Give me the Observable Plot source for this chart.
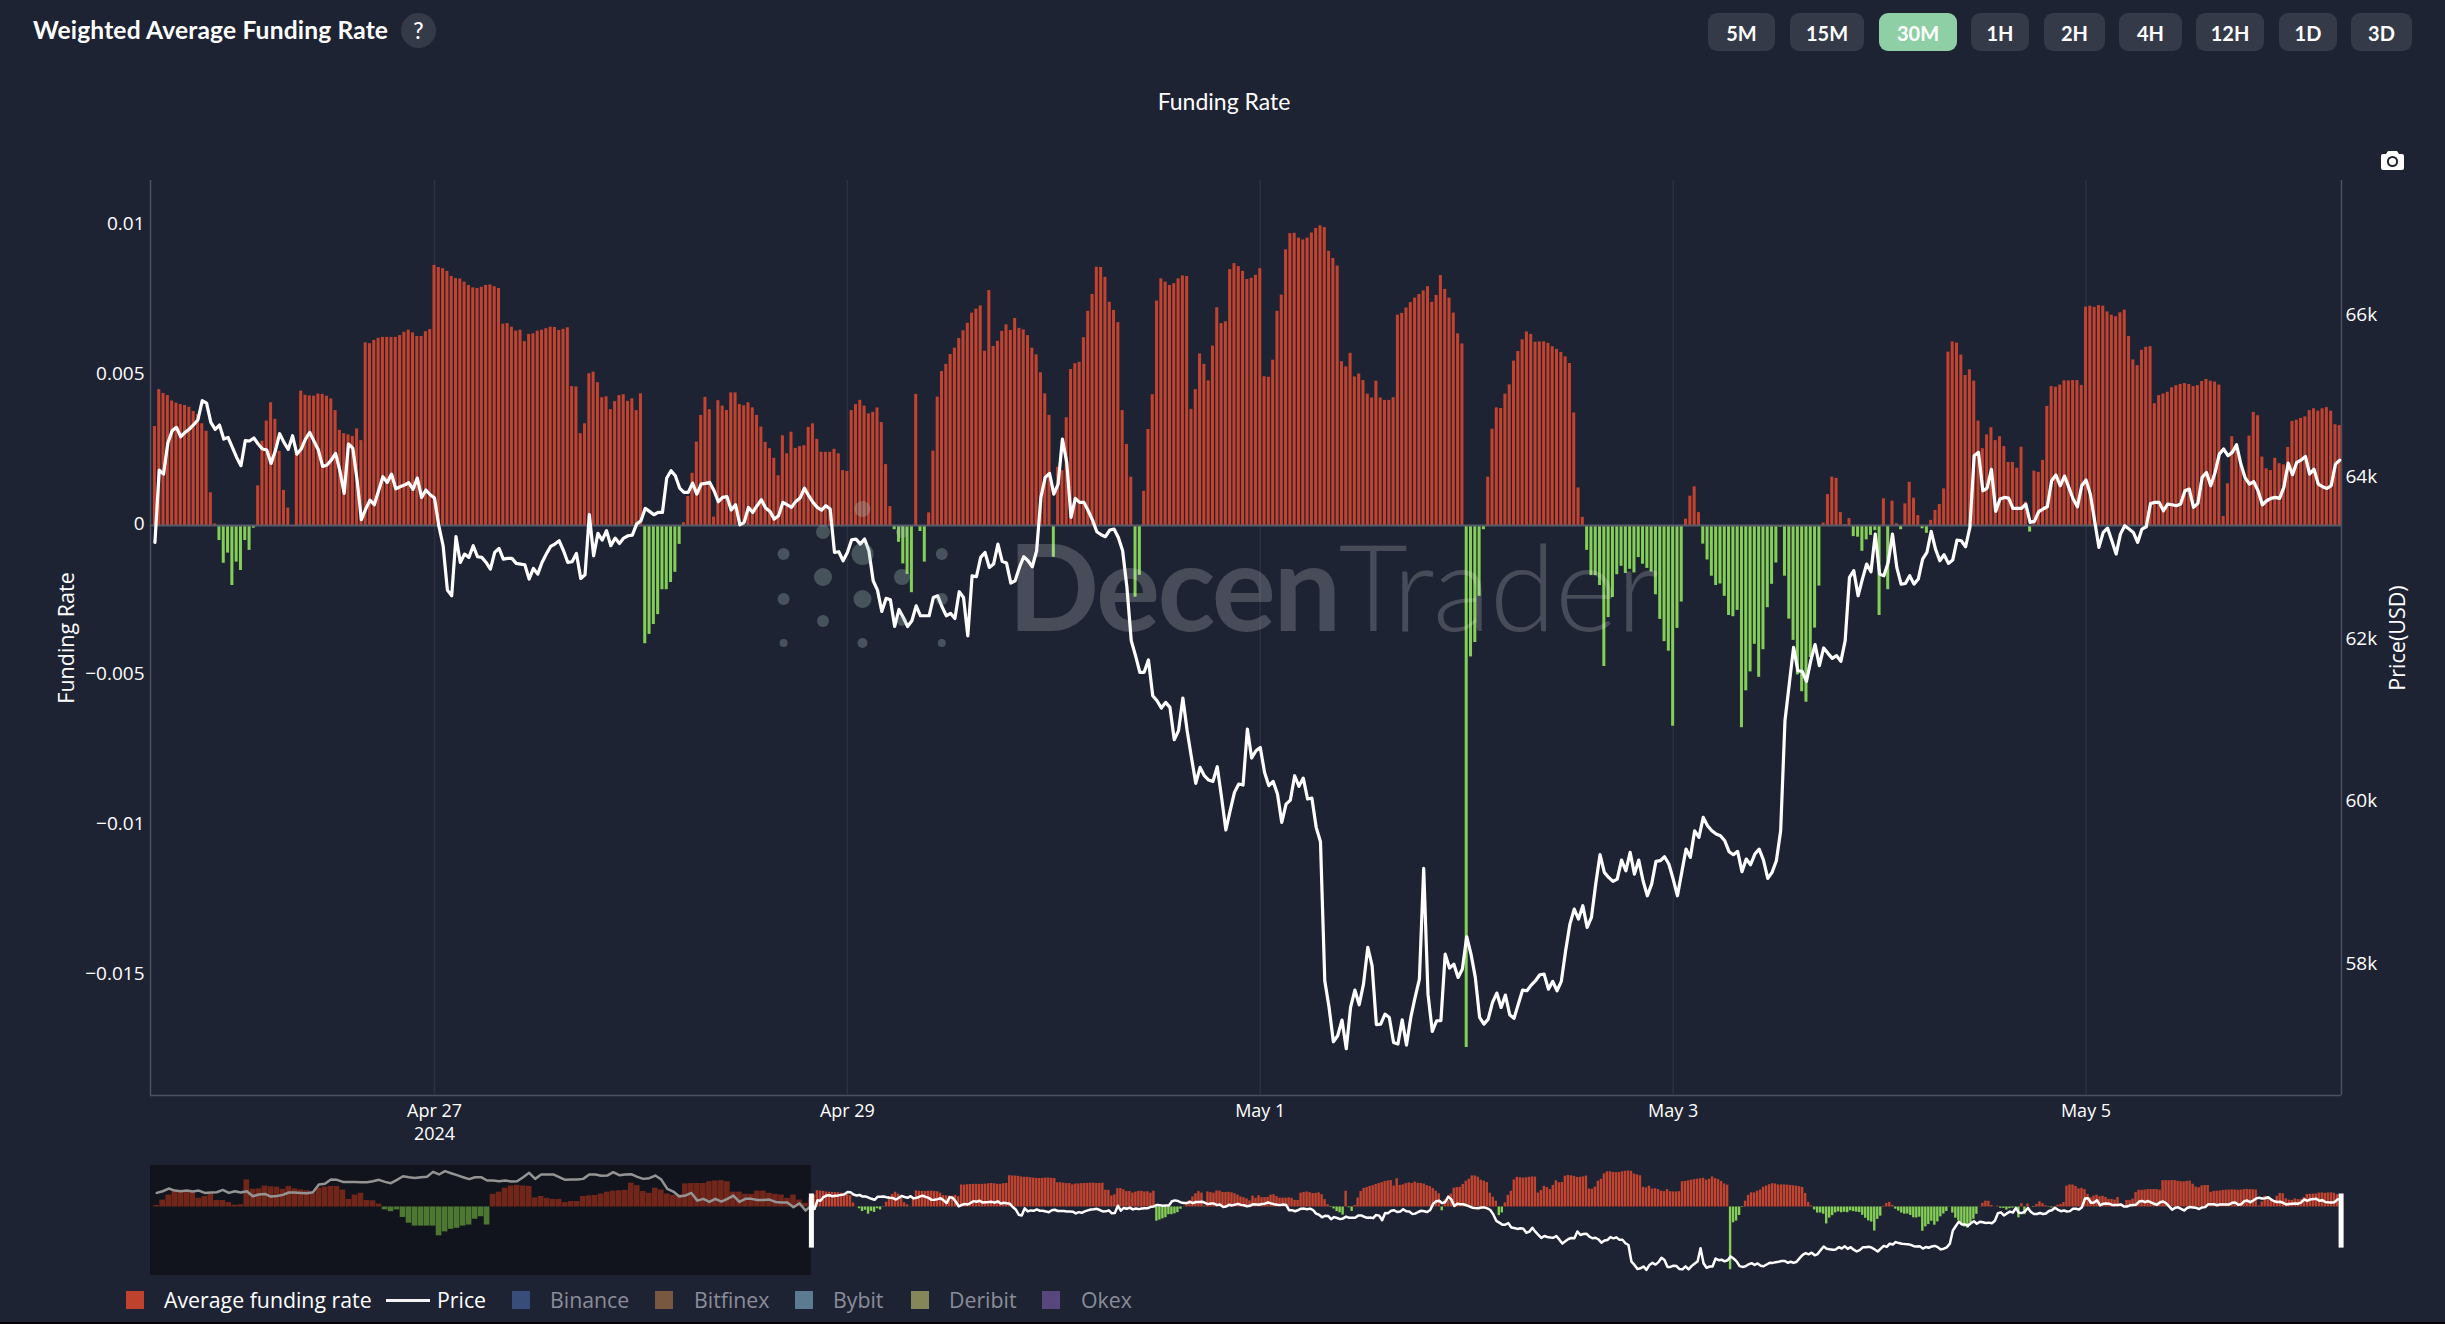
<!DOCTYPE html>
<html><head><meta charset="utf-8">
<script src="https://cdn.jsdelivr.net/npm/d3@7"></script>
<script src="https://cdn.jsdelivr.net/npm/@observablehq/plot@0.6"></script>
<style>
html{background:#000;margin:0}
body{margin:0;width:2445px;height:1322px;background:#1e2333;position:relative;overflow:hidden;font-family:"Open Sans",sans-serif;color:#fff}
#header{position:relative;height:130px}
#title{position:absolute;left:33px;top:15px;font:700 24.6px Lato,sans-serif;letter-spacing:.15px}
#help{position:absolute;left:401px;top:13px;width:35px;height:35px;border-radius:50%;background:#353a49;text-align:center;font:500 23px/35px Lato,sans-serif}
.btn{position:absolute;top:13px;height:38px;border-radius:9px;background:#353a49;text-align:center;font:700 20px/40px Lato,sans-serif}
.btn.on{background:#8fcfa6}
#sub{position:absolute;left:0;width:2448px;top:87px;text-align:center;font:400 23px Lato,sans-serif}
#cam{position:absolute;left:2381px;top:150px;z-index:3}
svg{display:block}
#wm{position:absolute;left:1008px;top:510px;font:700 120px/150px Lato,sans-serif;color:rgba(255,255,255,.19);letter-spacing:-2.5px;white-space:pre;z-index:2;pointer-events:none}
#wm span{font-weight:300;letter-spacing:-1px}
#logo{position:absolute;left:0;top:0;z-index:2;pointer-events:none}
#legend{position:absolute;left:0;top:1285px;height:37px;width:2445px}
.sw{position:absolute;top:6px;width:18px;height:18px;opacity:.95}
.lt{position:absolute;top:0;font:400 21.3px/30px "Open Sans",sans-serif}
</style></head><body>
<div id="header"></div>
<div id="main"></div>
<div id="nav"></div>
<div id="legend"></div>
<script>
// ---------- funding rate per 30-minute bar, in units of 0.0001 ----------
const fundingA = [33,45.3,44,43.3,41.5,40.8,40.3,40,39.4,38,37,33.9,31.4,10.9,0.5,-5,-12.6,-9.2,-20,-12.2,-15,-5,-8.3,-0.9,13.2,28.1,34.8,40.9,35.4,24.7,11.7,5.8,-0.3,24.4,44.8,43.4,43.2,43.1,43.8,43.7,43.1,42.2,38.3,31.7,30.6,30.2,29.7,32.2,28.3,60.9,60.6,61.7,62.4,62.7,62.7,62.7,62.7,63.3,64.4,65.1,64.2,63,63,64.6,65.3,86.7,86,85.6,84.7,83,82.3,82.2,81.1,80,79.2,79,79.4,80,80.2,79.6,79,67.1,67.3,66.1,64.8,65.1,61.3,63.7,63.9,64.8,65.1,65.6,66.1,66,65,65.4,65.9,46.3,46.2,30.6,33.9,50.6,51.1,47.6,42.6,42.9,38.6,41.3,43.3,43.6,41.4,42.2,38.3,43.9,-39.4,-36.3,-33,-29.7,-21.4,-21.4,-19,-15.6,-6.3,0.9,9.7,17.4,27.8];
const fundingB = [36.7,42.7,38.6,2.8,41.6,39.8,38.3,44.2,44.2,40.3,39.9,40.9,39.2,36.7,32.8,27.7,25.6,22.4,16.6,29.9,23.9,31.1,25.7,26.3,26.6,32.7,33.9,28.7,24.4,24.4,24.4,25.4,23.9,18.3,18,38.3,40.3,41.7,39.8,37.2,37.7,39.2,34.3,20.3,6.3,-1.4,-5.6,-12.8,-16.3,-22.4,43.7,-2,-12.2,4.2,24.8,42.8,51.3,53.7,57,59.1,62.3,64.9,67.4,70.8,72.1,73.2,58.1,78.3,59.7,61.4,64.7,66.9,65,69,65.7,65.2,63.3,59.1,56.9,50.9,43.9,36.7,-10.6,19.4,18.3,35.9,52,53.9,54.4,62.6,71.4,77,86.1,86,82.7,74.4,71.7,67.6,38.3,27,16.1,-23.9,-16.6,11.4,32,43.6,74.8,82.2,81.1,80,80.6,82.2,83.2,83,38.7,45.3,57.2,53.7,48.2,59.8,72.6,67.3,67.9,85.3,87.3,86.3,84.7,82,82.4,83.4,85.6];
const fundingC = [49.6,49.4,55.1,71.4,76.8,91.9,97.3,97.4,95.8,95.2,95.8,97.5,99,99.9,99.3,91.4,89,86.5,54.6,52.9,57.4,49.5,50.5,48.3,43.8,42.5,48.1,42.5,41.7,41.7,42.6,70.1,70.7,72.5,74.3,75.8,77,78.2,79.6,74.4,76.7,83.3,78.7,75.8,70.8,63.9,60.5,-174,-43.8,-39,-23.6,-1.4,16.1,32.1,39.2,39,43.8,46.9,54.8,58,61.9,64.5,63.7,61.1,61.2,61.2,60.7,59.6,58.7,57.7,56.2,54,37.5,12.5,2.7,-8.3,-16.7,-16.7,-20,-47,-30.7,-24,-16.4,-13.6,-16,-14.6,-15.8,-10.7,-12.9,-14.3,-15.5,-23.1,-31.3,-38.7,-41.9,-66.9,-34.3,-25.5,2.1,9.8,12.9,4.3,-6.2,-11.5,-16.9,-20,-19.5,-23.6,-30,-30.4,-28.3,-67.4,-55.1,-48.8,-39.6,-50.6,-41.4,-27.4,-19.6,-12.5,-0.6,-16.9,-31.2,-38.3,-49.8,-55.4,-58.9,-44,-34.2,-20.2];
const fundingD = [0.8,10.3,16.1,15.7,4.3,0.3,2.3,-3.7,-3.9,-8.6,-4.8,-3.3,-1.7,-30,8.9,-21.4,8.1,0.6,-1.4,7.2,14.4,9.1,3.3,-1.1,-2.6,1.7,5,7,12.2,57.8,61.2,60.8,56.8,50,51.9,48.1,34.8,25.6,30.2,32.6,28.3,29.6,26.3,21,21,19.1,26.1,7.8,-2.2,18.1,17.7,21.7,39.7,46.3,46.1,46.8,48.2,48.2,48.3,48.3,46.7,72.8,73.1,72.7,73.3,73.1,71.2,70.1,69.6,70.9,71.8,63,55.2,53.3,58.4,59.4,59.6,40.6,43.3,43.8,44.4,45.9,46.6,47,47.3,47,46.3,46.6,48,48.7,48.1,47.8,46.8,3,13.9,29.6,26.1,20,15,29.8,37.7,36.6,22.8,18.9,18.3,22.4,20.6,20.2,26,34.7,35.1,35.7,36.2,38.3,38.9,38.1,38.9,39.3,38.1,33.6,33.3];
// ---------- BTC price per bar (USD) ----------
const priceA = [63191,64082,64033,64415,64567,64608,64493,64546,64587,64641,64702,64937,64908,64670,64583,64637,64464,64485,64361,64238,64136,64444,64440,64477,64403,64341,64329,64164,64320,64530,64423,64337,64505,64279,64341,64464,64546,64435,64329,64127,64144,64205,64288,64074,63795,64403,64353,63959,63470,63602,63712,63655,63827,64000,63930,64033,63852,63877,63897,63926,63844,63984,63745,63836,63778,63737,63396,63150,62603,62533,63261,62944,63047,63006,63150,63014,63006,62944,62862,63067,63117,62985,62994,62994,62932,62924,62915,62739,62870,62800,62944,63047,63141,63170,63211,63088,62944,62952,63055,62747,62792,63532,63026,63302,63219,63335,63150,63244,63178,63244,63273,63281,63417,63458,63610,63573,63532,63560,63560,63984,64074,64012,63860,63807,63807,63922,63786];
const priceB = [63910,63918,63930,63827,63692,63745,63754,63589,63655,63408,63437,63622,63560,63643,63717,63614,63573,63478,63519,63684,63655,63622,63696,63737,63860,63766,63684,63622,63589,63643,63602,63067,63076,62965,63067,63224,63232,63170,63232,63088,62718,62603,62340,62501,62484,62155,62365,62266,62155,62225,62410,62287,62287,62287,62513,62533,62398,62287,62316,62254,62583,62513,62040,62780,62768,63006,63067,62883,62924,63170,62957,62936,62690,62718,62883,63014,62965,62891,63088,63745,63992,64041,63786,63910,64464,64177,63499,63733,63684,63684,63581,63466,63322,63285,63261,63343,63355,63252,63088,62636];
const priceC = [61980,61795,61590,61590,61742,61302,61240,61150,61220,61158,60760,60871,61273,60871,60542,60222,60419,60316,60263,60246,60427,60049,59647,59885,60111,60214,60201,60891,60534,60624,60665,60357,60193,60246,60090,59741,59967,60016,60316,60185,60287,60029,60041,59680,59503,57790,57461,57038,57112,57305,56952,57461,57675,57494,57749,58201,57975,57248,57256,57379,57338,57030,57009,57309,56997,57338,57584,57810,59174,57625,57165,57297,57297,58118,57946,57995,57831,57934,58332,58118,57831,57338,57256,57317,57523,57638,57461,57613,57371,57326];
const priceD = [57502,57675,57667,57736,57790,57864,57872,57687,57782,57667,57782,58160,58488,58673,58550,58714,58447,58570,58981,59343,59125,59063,59014,59043,59277,59145,59371,59104,59277,59022,58837,58981,59261,59269,59318,59228,59043,58837,59125,59412,59310,59638,59556,59803,59700,59638,59597,59577,59515,59380,59343,59384,59133,59289,59219,59351,59412,59277,59051,59125,59269,59638,60994,61446,61898,61610,61602,61479,61734,61931,61672,61890,61824,61762,61795,61725,61980];
const priceE = [62759,62842,62533,62739,62924,62829,63293,62800,62780,62944,63293,62883,62677,62685,62780,62677,62739,62985,63067,63326,63109,62965,63039,62932,62973,63219,63211,63137,63376,64259,64300,63827,63860,64090,63573,63725,63745,63737,63610,63610,63610,63663,63437,63450,63569,63602,63630,63951,64021,63889,64008,63869,63725,63630,63889,63959,63786,63458,63129,63314,63367,63211,63047,63293,63396,63355,63314,63191,63355,63384,63671,63684,63684,63581,63663,63655,63643,63663,63827,63848,63622,63671,63992,64053,63889,64053,64279,64341,64259,64300,64394,64156,63984,63910,63938,63827,63655,63704,63733,63745,63733,63869,64168,64025,64177,64205,64251,64033,64094,63910,63877,63856,63889,64156,64205];
// ---------- hourly readings for the part of the range slider left of the window ----------
const preFunding = [4,19,33,43,43,43,41,24,29,36,18,18,12,5,6,75,49,50,58,56,55,49,57,50,47,45,38,52,55,57,57,47,21,33,38,18,17,8,-8,-13,-8,-29,-45,-53,-53,-53,-53,-80,-69,-62,-59,-53,-50,-34,-27,-50,35,41,52,58,60,58,57,25,29,24,21,21,12,15,15,29,31,32,36,41,44,45,46,66,59,43,38,52,47,36,32,34,64,65,65,65,70,72,73,70,41,41,35,35,44,44,38,35,33,24,33,19,10,24];
const prePrice = [64840,65010,65290,65080,65010,65080,64980,65080,64840,64880,64910,65150,64840,65010,64880,65010,64500,64670,64740,64470,64530,64640,64880,64880,64840,64810,64910,65700,65770,66210,66180,65970,65970,65970,65940,65940,66040,66180,65970,65840,66180,66550,66450,66380,66450,66490,67000,66730,67070,66860,66660,66450,66250,66450,66450,66110,66110,66040,66110,66010,66040,66450,66900,66280,66730,66730,66730,66450,66180,66210,66210,66280,66730,66730,66590,66620,66970,66660,66730,66760,66490,66280,66350,66620,66210,65250,64980,64470,64570,64840,64050,64230,63920,64230,63950,64230,64570,63920,64230,64230,64120,64120,64160,63920,63850,63850,63370,63780,63030,63540];
// ---------- axes, labels, palette ----------
const fundingTicks = [0.01,0.005,0,-0.005,-0.01,-0.015];
const priceTicks = [58000,60000,62000,64000,66000];
const dateTicks = ["2024-04-27","2024-04-29","2024-05-01","2024-05-03","2024-05-05"];
const dateLabels = ["Apr 27\n2024","Apr 29","May 1","May 3","May 5"];
const buttons = ["5M","15M","30M","1H","2H","4H","12H","1D","3D"];
const buttonLeft = [1708,1790,1879,1971,2044,2119,2196,2279,2351];
const buttonWidth = [67,74,78,58,61,63,68,58,61];
const legendNames = ["Average funding rate","Price","Binance","Bitfinex","Bybit","Deribit","Okex"];
const legendColors = ["#c8442f",null,"#3b5080","#7d5c42","#5f8296","#8b8d5e","#5b4a82"];
const legendSwatchLeft = [126,386,512,655,795,911,1042];
const legendTextLeft = [164,437,550,694,833,949,1081];
const RED="#c4432e", GREEN="#84cf55", MUTED="#8a8d99";

const HALF=60e3, HOUR=3600e3;
const t0=+new Date("2024-04-25T15:30:00Z");
const funding=[...fundingA,...fundingB,...fundingC,...fundingD];
const price=[...priceA,...priceB,...priceC,...priceD,...priceE];
const rows=funding.map((f,i)=>({t:t0+i*30*HALF,f:f/1e4}));
const line=price.map((p,i)=>({t:t0+i*30*HALF,p}));
const preRows=preFunding.map((f,i)=>({t:t0+(i-preFunding.length)*HOUR+HOUR/2,f:f/1e4}));
const preLine=prePrice.map((p,i)=>({t:t0+(i-prePrice.length)*HOUR+HOUR/2,p}));

const xDomain=[new Date("2024-04-25T14:59:00Z"),new Date("2024-05-06T05:42:00Z")];
const navDomain=[new Date("2024-04-21T00:58:00Z"),xDomain[1]];
const yDomain=[-0.019,0.0115];
const toY=d3.scaleLinear([56376,67650],yDomain);
const tickDates=dateTicks.map(d=>new Date(d+"T00:00:00Z"));
const fmtF=v=>v===0?"0":(v<0?"\u2212":"")+Math.abs(v);
const barW=10.5*HALF;

const margins={marginLeft:150,marginRight:104};
const bars=(data,w)=>[
  Plot.rect(data.filter(d=>d.f>=0),{x1:d=>d.t-w,x2:d=>d.t+w,y1:0,y2:"f",fill:RED}),
  Plot.rect(data.filter(d=>d.f<0),{x1:d=>d.t-w,x2:d=>d.t+w,y1:0,y2:"f",fill:GREEN})];

const main=Plot.plot({width:2445,height:1020,marginTop:50,marginBottom:55,...margins,
  style:{background:"transparent",color:"#fff",fontFamily:"'Open Sans',sans-serif",fontSize:"18px",overflow:"visible"},
  x:{type:"utc",domain:xDomain},y:{domain:yDomain},
  marks:[
    Plot.ruleX(tickDates,{stroke:"#2c3142",strokeWidth:1.5}),
    ...bars(rows,barW),
    Plot.ruleY([0],{stroke:"#565b6a",strokeWidth:2}),
    Plot.ruleX(xDomain,{stroke:"#4b5062",strokeWidth:1.5}),
    Plot.ruleY([yDomain[0]],{stroke:"#4b5062",strokeWidth:1.5}),
    Plot.line(line,{x:"t",y:d=>toY(d.p),stroke:"#fff",strokeWidth:3.2,strokeLinejoin:"round"}),
    Plot.axisX(tickDates,{anchor:"bottom",tickSize:0,tickPadding:5,label:null,fontSize:18,lineHeight:1.28,tickFormat:d=>dateLabels[tickDates.findIndex(t=>+t===+d)]}),
    Plot.axisY(fundingTicks,{anchor:"left",tickSize:0,tickPadding:6,fontSize:19,dy:-1.5,tickFormat:fmtF,label:null}),
    Plot.axisY(priceTicks.map(toY),{anchor:"right",tickSize:0,tickPadding:4,fontSize:19,tickFormat:v=>Math.round(toY.invert(v)/1000)+"k",label:null}),
    Plot.text(["Funding Rate"],{frameAnchor:"left",textAnchor:"middle",dx:-83,rotate:-90,fontSize:21.5,fill:"#fff"}),
    Plot.text(["Price(USD)"],{frameAnchor:"right",textAnchor:"middle",dx:57,rotate:-90,fontSize:21.5,fill:"#fff"})
  ]});
document.getElementById("main").append(main);

const handleSpan=[0.0036,-0.0114];
const nav=Plot.plot({width:2445,height:135,marginTop:15,marginBottom:10,...margins,
  style:{background:"transparent",overflow:"visible"},
  x:{type:"utc",domain:navDomain,axis:null},y:{domain:yDomain,axis:null},
  marks:[
    ...bars(preRows,28*HALF),
    ...bars(rows,12*HALF),
    Plot.line([...preLine,...line],{x:"t",y:d=>toY(d.p),stroke:"#fff",strokeWidth:2.5}),
    Plot.rectY([0],{x1:()=>navDomain[0],x2:()=>xDomain[0],y1:yDomain[0],y2:yDomain[1],fill:"#000",fillOpacity:.42}),
    Plot.ruleX([xDomain[0],new Date(+xDomain[1]-4*60e3)],{y1:handleSpan[0],y2:handleSpan[1],stroke:"#fff",strokeWidth:5})
  ]});
document.getElementById("nav").append(nav);

// header
const h=document.getElementById("header");
h.insertAdjacentHTML("beforeend",`<div id="title">Weighted Average Funding Rate</div><div id="help">?</div><div id="sub">Funding Rate</div>`);
buttons.forEach((b,i)=>h.insertAdjacentHTML("beforeend",`<div class="btn${b==="30M"?" on":""}" style="left:${buttonLeft[i]}px;width:${buttonWidth[i]}px">${b}</div>`));
document.body.insertAdjacentHTML("beforeend",`<svg id="cam" width="23" height="20" viewBox="0 0 23 20"><path fill="#fff" d="M7 1h9l2 3h3a2 2 0 0 1 2 2v12a2 2 0 0 1-2 2H2a2 2 0 0 1-2-2V6a2 2 0 0 1 2-2h3z"/><circle cx="11.5" cy="11.5" r="5.6" fill="#1e2333"/><circle cx="11.5" cy="11.5" r="3.6" fill="#fff"/></svg>`);
// watermark
document.body.insertAdjacentHTML("beforeend",`<div id="wm">Decen<span>Trader</span></div>`);
const dots=[[783.6,554,6],[783.6,599,6],[783.6,643,4],[823,532,7],[823,577,9],[823,621,6],[862.5,509,8],[862.5,554,11],[862.5,599,9],[862.5,643,5],[902,532,6],[902,577,8],[902,621,5],[941.8,554,6],[941.8,599,6],[941.8,643,4]];
document.body.insertAdjacentHTML("beforeend",`<svg id="logo" width="2445" height="1322">${dots.map(([x,y,r])=>`<circle cx="${x}" cy="${y}" r="${r}" fill="#a9c4b8" opacity=".3"/>`).join("")}</svg>`);
// legend
const lg=document.getElementById("legend");
legendNames.forEach((n,i)=>{
  const on=i<2;
  lg.insertAdjacentHTML("beforeend",(legendColors[i]
    ?`<div class="sw" style="left:${legendSwatchLeft[i]}px;background:${legendColors[i]}"></div>`
    :`<div class="sw" style="left:${legendSwatchLeft[i]}px;width:44px;height:3px;top:14px;background:#fff"></div>`)
    +`<div class="lt" style="left:${legendTextLeft[i]}px;color:${on?"#fff":MUTED}">${n}</div>`);
});
</script>
</body></html>
